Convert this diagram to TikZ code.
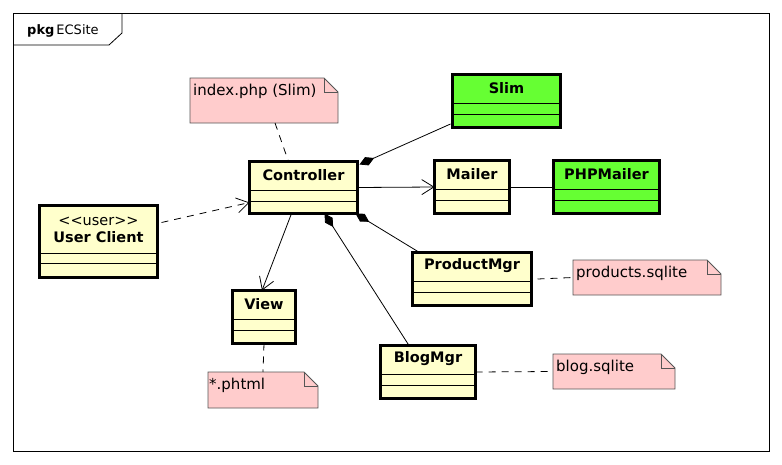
\documentclass[tikz,border=0pt]{standalone}
\usepackage{fontspec}
\setmainfont{DejaVu Sans}
\usetikzlibrary{arrows.meta}
\definecolor{classyellow}{HTML}{FFFFCC}
\definecolor{libgreen}{HTML}{66FF33}
\definecolor{notepink}{HTML}{FFCCCC}
\definecolor{notegray}{HTML}{555555}

\begin{document}
\begin{tikzpicture}[x=1pt,y=-1pt,
  umlclass/.style={draw,line width=3pt,fill=classyellow,anchor=north west,inner sep=0pt,outer sep=0pt},
  libclass/.style={umlclass,fill=libgreen},
  classname/.style={font=\fontsize{14.5}{17}\selectfont\bfseries,inner sep=0pt},
  comp/.style={line width=0.8pt},
  note/.style={anchor=north west,inner sep=0pt,outer sep=0pt},
  notebox/.style={draw=notegray,fill=notepink,line width=0.8pt},
  notetext/.style={font=\fontsize{15}{17}\selectfont,anchor=west,inner sep=0pt},
  notelink/.style={line width=0.8pt,dash pattern=on 7pt off 6pt},
  depend/.style={notelink,-{Straight Barb[length=12pt,width=15pt]}},
  assoc/.style={line width=0.8pt,-{Straight Barb[length=12pt,width=15pt]}},
  compos/.style={line width=0.8pt,{Diamond[length=16pt,width=9pt]}-}]
\useasboundingbox (0,0) rectangle (782,464);
%package frame
\draw[line width=0.8pt] (13,13) rectangle (769,451);
\draw[line width=0.8pt] (13,45) -- (109,45) -- (122,33) -- (122,13);
\node[anchor=west,inner sep=0pt,font=\fontsize{13}{15}\selectfont] (pkglabel) at (27,31) {\textbf{pkg}\kern2pt ECSite};
%classes
\node[umlclass,minimum width=108pt,minimum height=52pt] (ctrl) at (249.5,161.5) {};
\node[classname] at ([yshift=-13.5pt]ctrl.north) {Controller};
\draw[comp] ([yshift=-28.5pt]ctrl.north west) -- ([yshift=-28.5pt]ctrl.north east);
\draw[comp] ([yshift=-39.5pt]ctrl.north west) -- ([yshift=-39.5pt]ctrl.north east);
\node[libclass,minimum width=108pt,minimum height=53pt] (slim) at (452.5,74.5) {};
\node[classname] at ([yshift=-13.5pt]slim.north) {Slim};
\draw[comp] ([yshift=-28.5pt]slim.north west) -- ([yshift=-28.5pt]slim.north east);
\draw[comp] ([yshift=-39.5pt]slim.north west) -- ([yshift=-39.5pt]slim.north east);
\node[umlclass,minimum width=75pt,minimum height=53pt] (mailer) at (434.5,160.5) {};
\node[classname] at ([yshift=-13.5pt]mailer.north) {Mailer};
\draw[comp] ([yshift=-28.5pt]mailer.north west) -- ([yshift=-28.5pt]mailer.north east);
\draw[comp] ([yshift=-39.5pt]mailer.north west) -- ([yshift=-39.5pt]mailer.north east);
\node[libclass,minimum width=106pt,minimum height=53pt] (phpmailer) at (553.5,160.5) {};
\node[classname] at ([yshift=-13.5pt]phpmailer.north) {PHPMailer};
\draw[comp] ([yshift=-28.5pt]phpmailer.north west) -- ([yshift=-28.5pt]phpmailer.north east);
\draw[comp] ([yshift=-39.5pt]phpmailer.north west) -- ([yshift=-39.5pt]phpmailer.north east);
\node[umlclass,minimum width=119pt,minimum height=53pt] (productmgr) at (412.5,252.5) {};
\node[classname] at ([yshift=-13.5pt]productmgr.north) {ProductMgr};
\draw[comp] ([yshift=-28.5pt]productmgr.north west) -- ([yshift=-28.5pt]productmgr.north east);
\draw[comp] ([yshift=-39.5pt]productmgr.north west) -- ([yshift=-39.5pt]productmgr.north east);
\node[umlclass,minimum width=63pt,minimum height=53pt] (view) at (232.5,290.5) {};
\node[classname] at ([yshift=-13.5pt]view.north) {View};
\draw[comp] ([yshift=-28.5pt]view.north west) -- ([yshift=-28.5pt]view.north east);
\draw[comp] ([yshift=-39.5pt]view.north west) -- ([yshift=-39.5pt]view.north east);
\node[umlclass,minimum width=95pt,minimum height=53pt] (blogmgr) at (380.5,345.5) {};
\node[classname] at ([yshift=-13.5pt]blogmgr.north) {BlogMgr};
\draw[comp] ([yshift=-28.5pt]blogmgr.north west) -- ([yshift=-28.5pt]blogmgr.north east);
\draw[comp] ([yshift=-39.5pt]blogmgr.north west) -- ([yshift=-39.5pt]blogmgr.north east);
\node[umlclass,minimum width=118pt,minimum height=72pt] (userclient) at (39.5,205.5) {};
\node[classname,align=center] at ([yshift=-24pt]userclient.north) {\mdseries <\kern0pt<user>\kern0pt>\\User Client};
\draw[comp] ([yshift=-47.5pt]userclient.north west) -- ([yshift=-47.5pt]userclient.north east);
\draw[comp] ([yshift=-58pt]userclient.north west) -- ([yshift=-58pt]userclient.north east);
%notes
\node[note,minimum width=148pt,minimum height=45pt] (indexnote) at (190,78) {};
\filldraw[notebox] (indexnote.south west) -- (indexnote.north west) -- ([xshift=-14pt]indexnote.north east) -- ([yshift=-14pt]indexnote.north east) -- (indexnote.south east) -- cycle;
\draw[notebox,fill=none] ([xshift=-14pt]indexnote.north east) |- ([yshift=-14pt]indexnote.north east);
\node[notetext] at ([shift={(3pt,-13pt)}]indexnote.north west) {index.php (Slim)};
\node[note,minimum width=148pt,minimum height=35pt] (productsnote) at (573,260) {};
\filldraw[notebox] (productsnote.south west) -- (productsnote.north west) -- ([xshift=-14pt]productsnote.north east) -- ([yshift=-14pt]productsnote.north east) -- (productsnote.south east) -- cycle;
\draw[notebox,fill=none] ([xshift=-14pt]productsnote.north east) |- ([yshift=-14pt]productsnote.north east);
\node[notetext] at ([shift={(3pt,-13pt)}]productsnote.north west) {products.sqlite};
\node[note,minimum width=110pt,minimum height=36pt] (phtmlnote) at (208,372) {};
\filldraw[notebox] (phtmlnote.south west) -- (phtmlnote.north west) -- ([xshift=-14pt]phtmlnote.north east) -- ([yshift=-14pt]phtmlnote.north east) -- (phtmlnote.south east) -- cycle;
\draw[notebox,fill=none] ([xshift=-14pt]phtmlnote.north east) |- ([yshift=-14pt]phtmlnote.north east);
\node[notetext] at ([shift={(1pt,-13pt)}]phtmlnote.north west) {*.phtml};
\node[note,minimum width=122pt,minimum height=35pt] (blognote) at (553,354) {};
\filldraw[notebox] (blognote.south west) -- (blognote.north west) -- ([xshift=-14pt]blognote.north east) -- ([yshift=-14pt]blognote.north east) -- (blognote.south east) -- cycle;
\draw[notebox,fill=none] ([xshift=-14pt]blognote.north east) |- ([yshift=-14pt]blognote.north east);
\node[notetext] at ([shift={(3pt,-13pt)}]blognote.north west) {blog.sqlite};
%connectors
\draw[depend] ([shift={(4pt,19pt)}]userclient.east) -- ([yshift=-15pt]ctrl.west);
\draw[assoc] (ctrl.east) -- (mailer.west);
\draw[assoc] ([xshift=-12pt]ctrl.south) -- ([xshift=-2pt]view.north);
\draw[compos] ([shift={(2pt,-3pt)}]ctrl.north east) -- ([shift={(-2pt,3.5pt)}]slim.south west);
\draw[compos] ([xshift=-2pt]ctrl.south east) -- ([xshift=7pt]productmgr.north west);
\draw[compos] ([xshift=21pt]ctrl.south) -- ([xshift=28.5pt]blogmgr.north west);
\draw[comp] (mailer.east) -- (phpmailer.west);
\draw[notelink] ([xshift=11pt]indexnote.south) -- ([xshift=-15pt]ctrl.north);
\draw[notelink] ([xshift=6pt]productmgr.east) -- (productsnote.west);
\draw[notelink] (view.south) -- (phtmlnote.north);
\draw[notelink] (blogmgr.east) -- (blognote.west);
\end{tikzpicture}
\end{document}
